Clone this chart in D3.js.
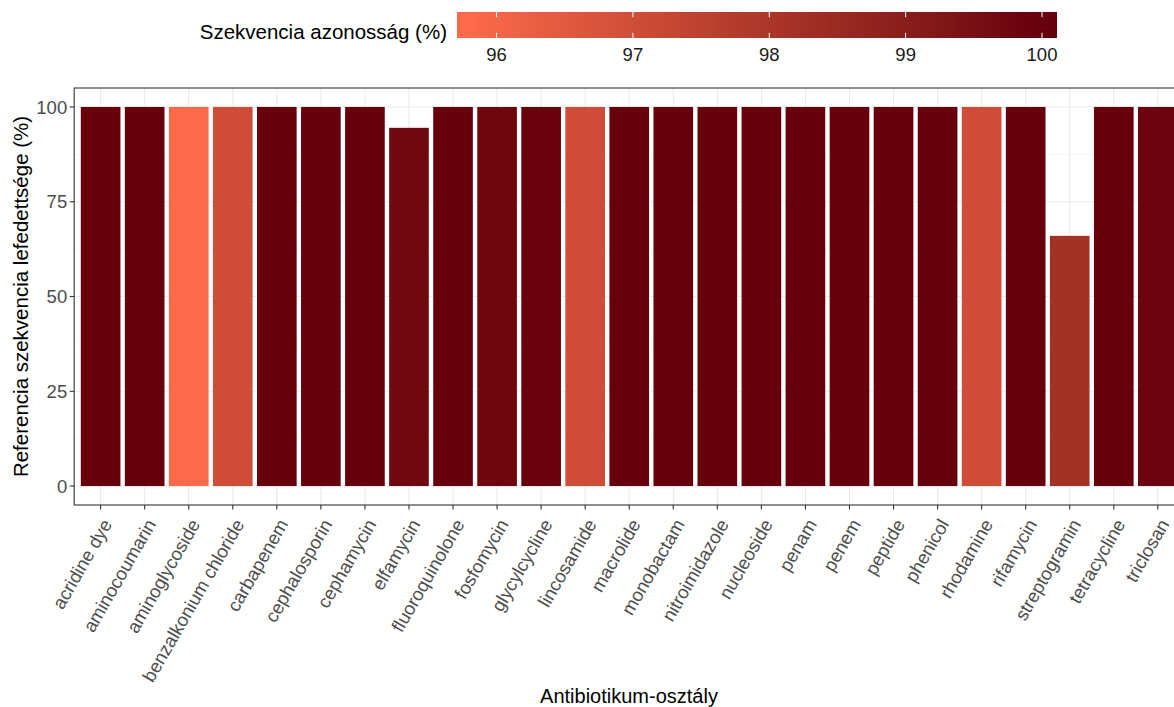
<!DOCTYPE html>
<html>
<head>
<meta charset="utf-8">
<script src="https://cdn.jsdelivr.net/npm/d3@7/dist/d3.min.js"></script>
<style>
  html, body { margin: 0; padding: 0; background: #fff; }
  svg { display: block; font-family: "Liberation Sans", Arial, Helvetica, sans-serif; }
</style>
</head>
<body>
<svg id="chart" width="1174" height="707"></svg>
<script>
// ---- data ----
const categories = ["acridine dye","aminocoumarin","aminoglycoside","benzalkonium chloride","carbapenem","cephalosporin","cephamycin","elfamycin","fluoroquinolone","fosfomycin","glycylcycline","lincosamide","macrolide","monobactam","nitroimidazole","nucleoside","penam","penem","peptide","phenicol","rhodamine","rifamycin","streptogramin","tetracycline","triclosan"];
const coverage = [100,100,100,100,100,100,100,94.5,100,100,100,100,100,100,100,100,100,100,100,100,100,100,66,100,100];
const identity = [100,100,95.82,97.0,100,100,100,99.72,100,99.8,99.92,97.0,100,100,100,100,100,100,100,100,97.0,100,98.2,100,99.85];
const yTicks = [0,25,50,75,100];
const yMinorTicks = [12.5,37.5,62.5,87.5];
const legendTicks = [96,97,98,99,100];
const lowColor = "#FB6A4A", highColor = "#67000D";

// ---- layout ----
const svg = d3.select("#chart");
const panel = {left: 74.2, top: 88, bottom: 505};
const step = 44.05;
const panelRight = panel.left + step * (categories.length + 0.2);

const x = d3.scaleBand().domain(categories)
  .range([panel.left + 0.1*step, panelRight - 0.1*step])
  .paddingInner(0.1).paddingOuter(0.05);

const y = d3.scaleLinear().domain([-5, 105]).range([panel.bottom, panel.top]);
const idExtent = d3.extent(identity);
const color = d3.scaleLinear().domain(idExtent).range([lowColor, highColor]).interpolate(d3.interpolateLab);

// clip to panel
svg.append("defs").append("clipPath").attr("id","pclip")
  .append("rect").attr("x", panel.left).attr("y", panel.top)
  .attr("width", panelRight - panel.left).attr("height", panel.bottom - panel.top);

const g = svg.append("g").attr("clip-path","url(#pclip)");
g.append("rect").attr("x", panel.left).attr("y", panel.top)
  .attr("width", panelRight - panel.left).attr("height", panel.bottom - panel.top).attr("fill","#fff");

// grid
g.selectAll("line.ymin").data(yMinorTicks).join("line")
  .attr("x1", panel.left).attr("x2", panelRight)
  .attr("y1", d => y(d)).attr("y2", d => y(d))
  .attr("stroke", "#F2F2F2").attr("stroke-width", 0.6);
g.selectAll("line.ymaj").data(yTicks).join("line")
  .attr("x1", panel.left).attr("x2", panelRight)
  .attr("y1", d => y(d)).attr("y2", d => y(d))
  .attr("stroke", "#EBEBEB").attr("stroke-width", 1.1);
g.selectAll("line.xmaj").data(categories).join("line")
  .attr("x1", d => x(d) + x.bandwidth()/2).attr("x2", d => x(d) + x.bandwidth()/2)
  .attr("y1", panel.top).attr("y2", panel.bottom)
  .attr("stroke", "#EBEBEB").attr("stroke-width", 1.1);

// bars
g.selectAll("rect.bar").data(categories).join("rect")
  .attr("class","bar")
  .attr("x", d => x(d))
  .attr("width", x.bandwidth())
  .attr("y", (d,i) => y(coverage[i]))
  .attr("height", (d,i) => y(0) - y(coverage[i]))
  .attr("fill", (d,i) => color(identity[i]));

// panel border
svg.append("rect").attr("x", panel.left).attr("y", panel.top)
  .attr("width", panelRight - panel.left).attr("height", panel.bottom - panel.top)
  .attr("fill","none").attr("stroke","#333333").attr("stroke-width",1.1);

// y axis ticks & labels
const yAx = svg.append("g");
yAx.selectAll("line").data(yTicks).join("line")
  .attr("x1", panel.left - 4.5).attr("x2", panel.left)
  .attr("y1", d => y(d)).attr("y2", d => y(d))
  .attr("stroke","#333333").attr("stroke-width",1.1);
yAx.selectAll("text").data(yTicks).join("text")
  .attr("x", panel.left - 7).attr("y", d => y(d)).attr("dy","0.36em")
  .attr("text-anchor","end").attr("font-size", 18.5).attr("fill","#4D4D4D")
  .text(d => d);

// x axis ticks & labels
const xAx = svg.append("g");
xAx.selectAll("line").data(categories).join("line")
  .attr("x1", d => x(d) + x.bandwidth()/2).attr("x2", d => x(d) + x.bandwidth()/2)
  .attr("y1", panel.bottom).attr("y2", panel.bottom + 4.5)
  .attr("stroke","#333333").attr("stroke-width",1.1);
xAx.selectAll("text").data(categories).join("text")
  .attr("transform", d => `translate(${x(d) + x.bandwidth()/2 + 12},${panel.bottom + 19}) rotate(-60)`)
  .attr("text-anchor","end").attr("font-size", 18.5).attr("fill","#4D4D4D")
  .text(d => d);

// axis titles
svg.append("text").attr("x", 629).attr("y", 703)
  .attr("text-anchor","middle").attr("font-size", 20).attr("fill","#000")
  .text("Antibiotikum-osztály");
svg.append("text").attr("transform", `translate(28,${(panel.top+panel.bottom)/2}) rotate(-90)`)
  .attr("text-anchor","middle").attr("font-size", 20.5).attr("fill","#000")
  .text("Referencia szekvencia lefedettsége (%)");

// legend
const lx = d3.scaleLinear().domain(idExtent).range([472, 1042]);
const barX0 = 457, barX1 = 1057, barY = 12, barH = 26;
const grad = svg.select("defs").append("linearGradient").attr("id","lg")
  .attr("x1", 0).attr("x2", 1).attr("y1", 0).attr("y2", 0);
const nStops = 40;
d3.range(nStops + 1).forEach(i => {
  const px = barX0 + (barX1 - barX0) * i / nStops;
  const v = Math.max(idExtent[0], Math.min(idExtent[1], lx.invert(px)));
  grad.append("stop").attr("offset", (i / nStops * 100) + "%").attr("stop-color", color(v));
});
svg.append("rect").attr("x", barX0).attr("y", barY).attr("width", barX1 - barX0).attr("height", barH)
  .attr("fill","url(#lg)");
const lt = svg.append("g");
lt.selectAll("line.t").data(legendTicks).join("line")
  .attr("x1", d => lx(d)).attr("x2", d => lx(d))
  .attr("y1", barY).attr("y2", barY + barH*0.2)
  .attr("stroke","#fff").attr("stroke-width",1);
lt.selectAll("line.b").data(legendTicks).join("line")
  .attr("x1", d => lx(d)).attr("x2", d => lx(d))
  .attr("y1", barY + barH*0.8).attr("y2", barY + barH)
  .attr("stroke","#fff").attr("stroke-width",1);
lt.selectAll("text").data(legendTicks).join("text")
  .attr("x", d => lx(d)).attr("y", 61)
  .attr("text-anchor","middle").attr("font-size", 18.5).attr("fill","#1A1A1A")
  .text(d => d);
svg.append("text").attr("x", 447).attr("y", 32).attr("dy","0.35em")
  .attr("text-anchor","end").attr("font-size", 20.5).attr("fill","#000")
  .text("Szekvencia azonosság (%)");
</script>
</body>
</html>
